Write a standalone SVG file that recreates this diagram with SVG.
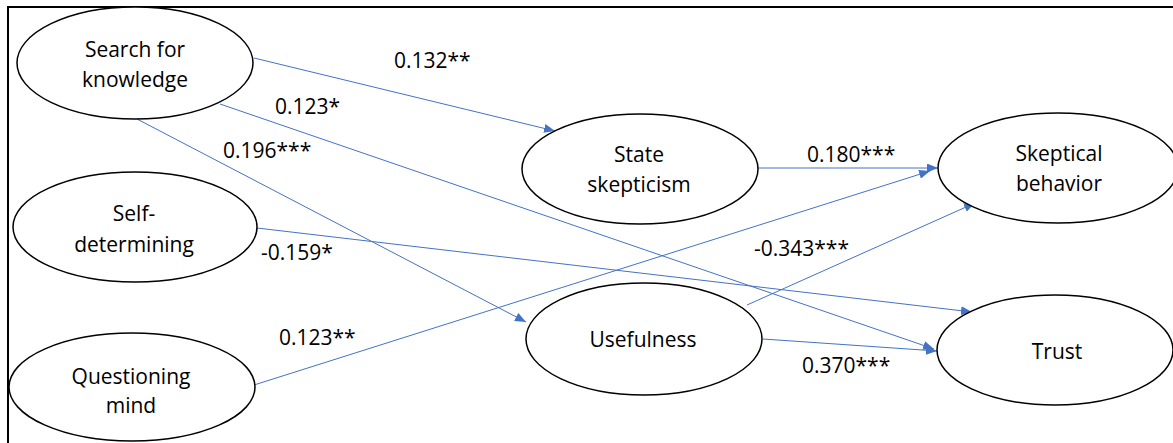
<svg xmlns="http://www.w3.org/2000/svg" width="1173" height="443" viewBox="0 0 1173 443">
<style>
.n ellipse{fill:#fff;stroke:#000;stroke-width:1.5}
text{font-family:"Open Sans","Liberation Sans",sans-serif;font-size:21px;fill:#000}
.n text{text-anchor:middle}
.e line{stroke:#4472C4;stroke-width:1;marker-end:url(#ah)}
</style>
<defs>
<marker id="ah" markerUnits="userSpaceOnUse" markerWidth="11" markerHeight="9" refX="11" refY="4.5" orient="auto">
<path d="M0,0 L11,4.5 L0,9 z" fill="#4472C4"/>
</marker>
</defs>
<rect width="1173" height="443" fill="#fff"/>
<path d="M8,443 V7 H1173" fill="none" stroke="#000" stroke-width="2"/>
<g class="e" id="connectors">
<line x1="254" y1="58" x2="555" y2="131"/>
<line x1="220" y1="104" x2="934" y2="349"/>
<line x1="137" y1="119" x2="526" y2="322"/>
<line x1="257" y1="228" x2="972" y2="312"/>
<line x1="254" y1="385" x2="930" y2="171"/>
<line x1="747" y1="305" x2="975" y2="203"/>
<line x1="763" y1="339" x2="937" y2="351"/>
<line x1="758" y1="168" x2="938" y2="168"/>
</g>
<g class="n" id="search">
<ellipse cx="135" cy="63" rx="118" ry="56"/>
<text x="135" y="57">Search for</text>
<text x="135" y="87">knowledge</text>
</g>
<g class="n" id="self">
<ellipse cx="135" cy="227" rx="122" ry="55"/>
<text x="134" y="221">Self-</text>
<text x="134" y="252">determining</text>
</g>
<g class="n" id="questioning">
<ellipse cx="132" cy="387" rx="123" ry="54"/>
<text x="131" y="384">Questioning</text>
<text x="131" y="413">mind</text>
</g>
<g class="n" id="state">
<ellipse cx="640" cy="169" rx="118" ry="55"/>
<text x="639" y="162">State</text>
<text x="639" y="192">skepticism</text>
</g>
<g class="n" id="usefulness">
<ellipse cx="644" cy="339" rx="118" ry="56"/>
<text x="643" y="347">Usefulness</text>
</g>
<g class="n" id="skeptical">
<ellipse cx="1058" cy="168" rx="120" ry="55"/>
<text x="1059" y="161">Skeptical</text>
<text x="1059" y="191">behavior</text>
</g>
<g class="n" id="trust">
<ellipse cx="1055" cy="350" rx="118" ry="55"/>
<text x="1057" y="359">Trust</text>
</g>
<g id="labels">
<text x="394" y="68">0.132**</text>
<text x="275" y="114">0.123*</text>
<text x="223" y="158">0.196***</text>
<text x="261" y="260">-0.159*</text>
<text x="279" y="345">0.123**</text>
<text x="807" y="162">0.180***</text>
<text x="754" y="256">-0.343***</text>
<text x="802" y="373">0.370***</text>
</g>
</svg>
